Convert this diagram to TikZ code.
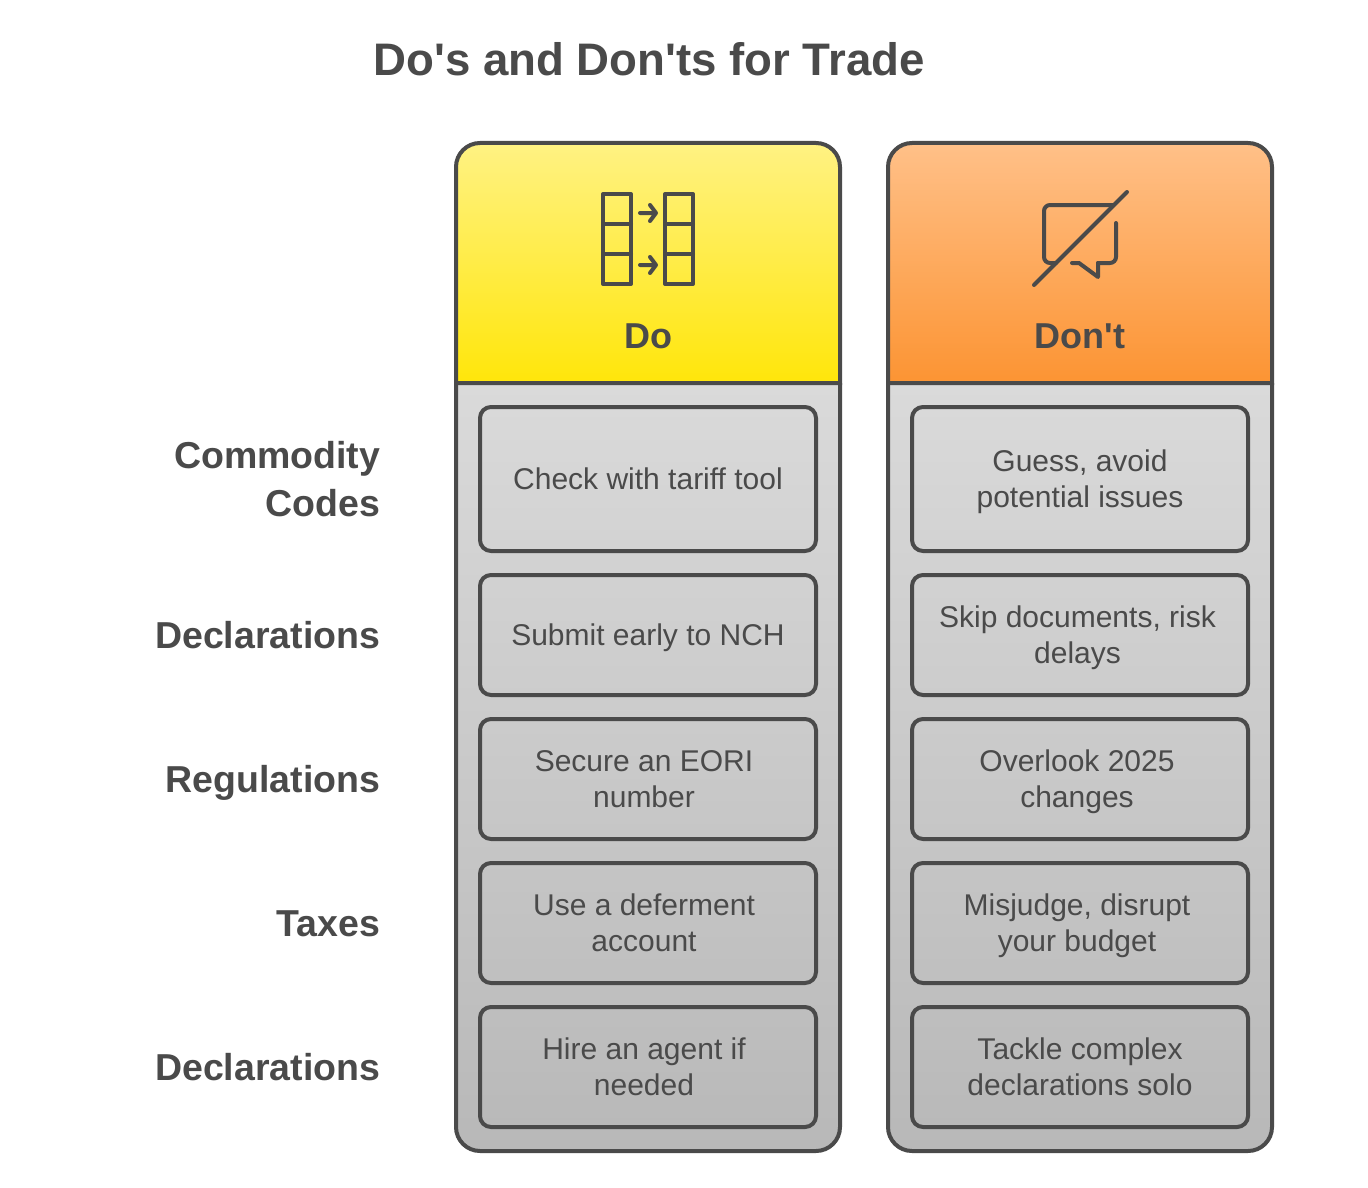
\documentclass[tikz,border=0pt]{standalone}
\usepackage{fontspec}
\setmainfont{Liberation Sans}
\definecolor{inkgrey}{HTML}{4A4A4A}
\definecolor{bodytop}{HTML}{DADADA}
\definecolor{bodybot}{HTML}{B8B8B8}
\definecolor{dotop}{HTML}{FFF283}
\definecolor{dobot}{HTML}{FFE60A}
\definecolor{donttop}{HTML}{FFC088}
\definecolor{dontbot}{HTML}{FC9433}
\newcommand{\CardTop}{\rule{0pt}{29pt}}
\newcommand{\CardBot}{\rule[-8pt]{0pt}{8pt}}
\newcommand{\CardLines}[3]{\hspace*{#1}\CardTop #2\\\hspace*{#1}#3\CardBot}

\begin{document}
\begin{tikzpicture}[x=1pt,y=-1pt]
    \tikzstyle{Column} = [
            draw=inkgrey,
            line width=4pt,
            top color=bodytop,
            bottom color=bodybot
    ];
    \tikzstyle{Head} = [
            draw=inkgrey,
            line width=4pt
    ];
    \tikzstyle{Card} = [
            draw=inkgrey,
            line width=4pt,
            rectangle,
            rounded corners=11pt,
            minimum width=336pt,
            inner sep=0pt,
            align=center,
            text=inkgrey,
            font={\fontsize{30}{36}\selectfont}
    ];
    \tikzstyle{RowLabel} = [
            anchor=base east,
            inner sep=0pt,
            text=inkgrey,
            font={\fontsize{37.5}{48}\selectfont\bfseries}
    ];
    \tikzstyle{HeadLabel} = [
            anchor=base,
            inner sep=0pt,
            text=inkgrey,
            font={\fontsize{36}{44}\selectfont\bfseries}
    ];
    \tikzstyle{Icon} = [
            draw=inkgrey,
            line width=4pt,
            line cap=round,
            line join=round
    ];

    \useasboundingbox (0,0) rectangle (1368,1188);

    \node[anchor=base, inner sep=0pt, text=inkgrey, font={\fontsize{45.6}{56}\selectfont\bfseries}, name=Title] at (649,76) {Do\textquotesingle s and Don\textquotesingle ts for Trade};

    % columns
    \path[Column] (456,383) [rounded corners=24pt] -- (456,1151) -- (840,1151) -- (840,383);
    \path[Column] (888,383) [rounded corners=24pt] -- (888,1151) -- (1272,1151) -- (1272,383);
    \path[Head, top color=dotop, bottom color=dobot] (456,383) [rounded corners=24pt] -- (456,143) -- (840,143) [sharp corners] -- (840,383) -- cycle;
    \path[Head, top color=donttop, bottom color=dontbot] (888,383) [rounded corners=24pt] -- (888,143) -- (1272,143) [sharp corners] -- (1272,383) -- cycle;
    \node[HeadLabel, name=DoHead]   at (648,348)  {Do};
    \node[HeadLabel, name=DontHead] at (1080,348) {Don\textquotesingle t};

    % row labels
    \node[RowLabel, name=LabelCommodity] at (380.5,468)  {Commodity};
    \node[RowLabel, name=LabelCodes]  at (380.5,516)  {Codes};
    \node[RowLabel, name=LabelDecl]   at (380.5,648)  {Declarations};
    \node[RowLabel, name=LabelRegs]   at (380.5,792)  {Regulations};
    \node[RowLabel, name=LabelTaxes]  at (380.5,936)  {Taxes};
    \node[RowLabel, name=LabelAgent]  at (380.5,1080) {Declarations};

    % cards
    \node[Card, minimum height=144pt, name=DoCodes]    at (648,479)  {\CardTop Check with tariff tool\CardBot};
    \node[Card, minimum height=120pt, name=DoDecl]     at (648,635)  {\CardTop Submit early to NCH\CardBot};
    \node[Card, minimum height=120pt, name=DoRegs]     at (648,779)  {\CardLines{-8pt}{Secure an EORI}{number}};
    \node[Card, minimum height=120pt, name=DoTaxes]    at (648,923)  {\CardLines{-8pt}{Use a deferment}{account}};
    \node[Card, minimum height=120pt, name=DoAgent]    at (648,1067) {\CardLines{-8pt}{Hire an agent if}{needed}};
    \node[Card, minimum height=144pt, name=DontCodes]  at (1080,479)  {\CardLines{0pt}{Guess, avoid}{potential issues}};
    \node[Card, minimum height=120pt, name=DontDecl]   at (1080,635)  {\CardLines{-5pt}{Skip documents, risk}{delays}};
    \node[Card, minimum height=120pt, name=DontRegs]   at (1080,779)  {\CardLines{-6pt}{Overlook 2025}{changes}};
    \node[Card, minimum height=120pt, name=DontTaxes]  at (1080,923)  {\CardLines{-6pt}{Misjudge, disrupt}{your budget}};
    \node[Card, minimum height=120pt, name=DontAgent]  at (1080,1067) {\CardLines{0pt}{Tackle complex}{declarations solo}};

    % do icon
    \draw[Icon] (603,194) rectangle (631,284) (603,224) -- (631,224) (603,254) -- (631,254);
    \draw[Icon] (665,194) rectangle (693,284) (665,224) -- (693,224) (665,254) -- (693,254);
    \draw[Icon] (640,213) -- (656,213) (650,205) -- (656,213) -- (650,221);
    \draw[Icon] (640,265) -- (656,265) (650,257) -- (656,265) -- (650,273);

    % don't icon
    \draw[Icon, rounded corners=6pt] (1056,263) -- (1044,263) -- (1044,205) -- (1113,205);
    \draw[Icon, rounded corners=6pt] (1116,223) -- (1116,263) -- (1098,263);
    \draw[Icon] (1072,263) -- (1079,263) -- (1098,277) -- (1098,263);
    \draw[Icon] (1034,285) -- (1127,192);
\end{tikzpicture}
\end{document}
